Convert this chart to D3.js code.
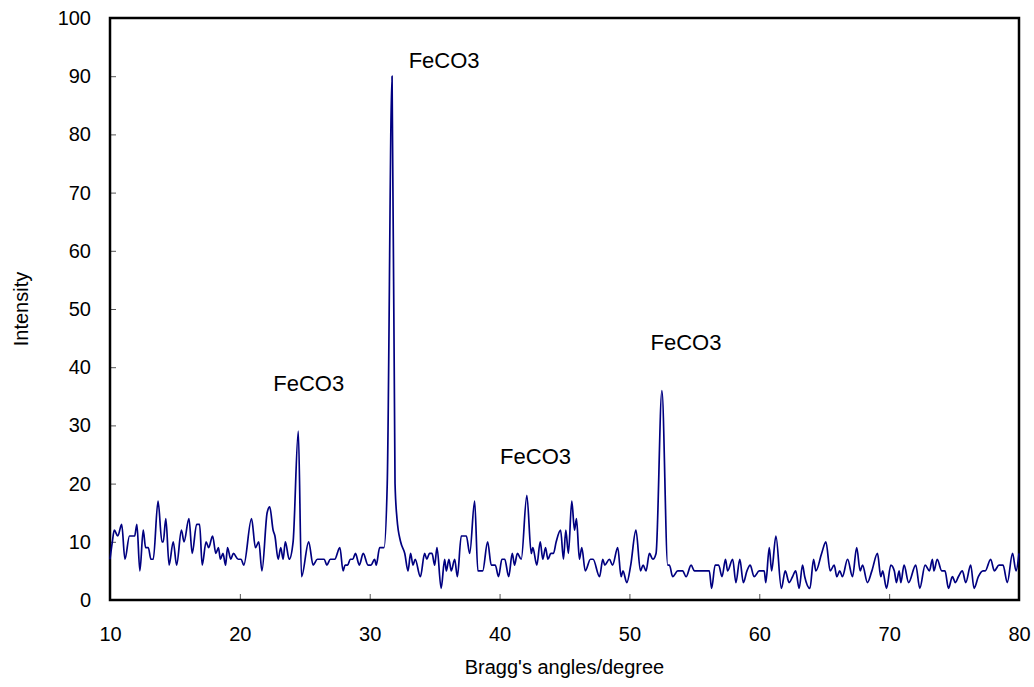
<!DOCTYPE html>
<html>
<head>
<meta charset="utf-8">
<script src="https://cdn.jsdelivr.net/npm/d3@7"></script>
<style>
  body { margin: 0; background: #fff; }
  svg { font-family: "Liberation Sans", Arial, sans-serif; }
</style>
</head>
<body>
<div id="svg_container"></div>
<script>

// Углы Брэгга (градусы)
const angles = [
  10.0, 10.18, 10.33, 10.6, 10.9, 11.15, 11.5, 11.9, 12.07, 12.3, 12.56, 12.74, 12.95, 13.15, 13.33, 13.7,
  14.0, 14.1, 14.3, 14.55, 14.87, 15.13, 15.5, 15.7, 16.08, 16.33, 16.67, 16.9, 17.1, 17.4, 17.6, 17.9,
  18.15, 18.35, 18.5, 18.7, 18.9, 19.05, 19.3, 19.5, 19.87, 20.1, 20.3, 20.9, 21.2, 21.46, 21.7, 22.1,
  22.3, 22.56, 22.7, 22.95, 23.15, 23.33, 23.5, 23.8, 24.1, 24.5, 24.75, 25.3, 25.64, 25.97, 26.5, 26.7,
  26.97, 27.3, 27.7, 27.95, 28.1, 28.3, 28.5, 28.7, 28.9, 29.2, 29.5, 29.87, 30.1, 30.38, 30.5, 30.77,
  31.1, 31.35, 31.72, 31.95, 32.1, 32.38, 32.7, 32.95, 33.15, 33.33, 33.5, 33.9, 34.23, 34.4, 34.6, 34.8,
  35.0, 35.18, 35.5, 35.77, 35.9, 36.1, 36.28, 36.54, 36.75, 37.05, 37.44, 37.7, 38.08, 38.33, 38.7, 39.08,
  39.36, 39.67, 39.92, 40.18, 40.4, 40.7, 40.98, 41.15, 41.37, 41.67, 42.1, 42.44, 42.56, 42.87, 43.13, 43.33,
  43.54, 43.72, 43.95, 44.15, 44.36, 44.7, 44.92, 45.1, 45.3, 45.56, 45.77, 45.92, 46.15, 46.33, 46.6, 47.0,
  47.2, 47.7, 47.95, 48.1, 48.46, 48.7, 49.1, 49.36, 49.5, 49.8, 50.1, 50.5, 50.85, 51.05, 51.28, 51.54,
  51.8, 52.05, 52.5, 52.95, 53.08, 53.33, 53.72, 54.1, 54.36, 54.75, 55.0, 56.15, 56.33, 56.6, 56.87, 57.13,
  57.4, 57.56, 57.95, 58.2, 58.5, 58.77, 59.05, 59.3, 59.6, 60.0, 60.38, 60.5, 60.77, 60.95, 61.28, 61.7,
  62.0, 62.3, 62.56, 62.8, 63.07, 63.33, 63.5, 63.9, 64.18, 64.36, 64.8, 65.13, 65.46, 65.77, 65.97, 66.2,
  66.4, 66.8, 67.18, 67.5, 67.77, 67.95, 68.33, 68.67, 69.1, 69.36, 69.5, 69.8, 70.13, 70.4, 70.56, 70.77,
  70.9, 71.15, 71.5, 72.05, 72.36, 72.77, 73.1, 73.33, 73.45, 73.7, 74.05, 74.3, 74.57, 74.87, 75.1, 75.33,
  75.64, 75.9, 76.28, 76.54, 76.87, 77.23, 77.4, 77.82, 78.1, 78.46, 78.77, 79.1, 79.5, 79.77, 80.0
];

// Интенсивность
const intensity = [
  7, 10, 12, 11, 13, 7, 11, 11, 13, 5, 12, 9, 9, 7, 7, 17,
  10, 10, 14, 6, 10, 6, 12, 10, 14, 8, 13, 13, 6, 10, 9, 11,
  8, 9, 7, 8, 6, 9, 7, 8, 7, 7, 6, 14, 9, 10, 5, 15,
  16, 12, 11, 7, 9, 7, 10, 7, 10, 29, 4, 10, 6, 7, 7, 6,
  7, 7, 9, 5, 6, 6, 7, 7, 8, 6, 8, 6, 6, 7, 6, 9,
  9, 20, 90, 20, 14, 10, 8, 5, 8, 6, 7, 4, 8, 7, 8, 8,
  6, 9, 2, 7, 5, 7, 5, 7, 4, 11, 11, 8, 17, 5, 5, 10,
  6, 6, 4, 7, 7, 4, 8, 6, 8, 7, 18, 8, 9, 6, 10, 7,
  9, 7, 8, 8, 10, 12, 7, 12, 8, 17, 12, 14, 7, 9, 5, 7,
  7, 4, 7, 6, 7, 6, 9, 4, 5, 3, 6, 12, 5, 6, 5, 8,
  7, 8, 36, 6, 6, 4, 5, 5, 4, 6, 5, 5, 2, 6, 6, 4,
  7, 5, 7, 3, 7, 3, 5, 6, 4, 5, 5, 3, 9, 5, 11, 2,
  5, 3, 4, 5, 2, 6, 4, 2, 7, 5, 8, 10, 5, 6, 4, 5,
  4, 7, 4, 9, 5, 6, 3, 5, 8, 4, 5, 2, 6, 5, 3, 5,
  3, 6, 3, 6, 2, 6, 5, 7, 5, 7, 5, 5, 2, 4, 3, 4,
  5, 3, 6, 2, 4, 5, 5, 7, 5, 6, 6, 3, 8, 5, 8
];

// Метки осей
const xTicks = [10, 20, 30, 40, 50, 60, 70, 80];
const yTicks = [0, 10, 20, 30, 40, 50, 60, 70, 80, 90, 100];

// Подписи пиков
const peakNames = ['FeCO3', 'FeCO3', 'FeCO3', 'FeCO3'];
const peakAngles = [25.3, 35.73, 42.77, 54.35];
const peakLevels = [35.9, 91.4, 23.4, 43.0];

// Размеры
let width = 1034;
let height = 687;
let margin = { top: 18, right: 15, bottom: 87, left: 110 };

let svg = d3.select('#svg_container')
            .append('svg')
            .attr('width', width)
            .attr('height', height);

// Шкалы
let xScale = d3.scaleLinear()
              .domain([10, 80])
              .range([margin.left, width - margin.right]);

let yScale = d3.scaleLinear()
              .domain([0, 100])
              .range([height - margin.bottom, margin.top]);

// Горизонтальная ось
let xAxis = d3.axisBottom(xScale)
              .tickValues(xTicks)
              .tickSizeInner(-6)
              .tickSizeOuter(0)
              .tickPadding(27);

let gx = svg.append('g')
  .attr('transform', `translate(0, ${height - margin.bottom})`)
  .call(xAxis);

// Вертикальная ось
let yAxis = d3.axisLeft(yScale)
              .tickValues(yTicks)
              .tickSizeInner(-6)
              .tickSizeOuter(0)
              .tickPadding(19);

let gy = svg.append('g')
  .attr('transform', `translate(${margin.left}, 0)`)
  .call(yAxis);

[gx, gy].forEach(g => {
  g.select('.domain').remove();
  g.selectAll('.tick line').attr('stroke', '#555').attr('stroke-width', 1);
  g.selectAll('.tick text')
    .attr('fill', '#000')
    .style('font-size', '20px');
});

// Рамка графика
svg.append('rect')
  .attr('x', margin.left)
  .attr('y', margin.top)
  .attr('width', width - margin.left - margin.right)
  .attr('height', height - margin.top - margin.bottom)
  .attr('fill', 'none')
  .attr('stroke', '#000')
  .attr('stroke-width', 2.5);

// Линия спектра (сглаженная)
let line = d3.line()
            .x((d, i) => xScale(angles[i]))
            .y(d => yScale(d))
            .curve(d3.curveMonotoneX);

svg.append('path')
  .datum(intensity)
  .attr('fill', 'none')
  .attr('stroke', '#000080')
  .attr('stroke-width', 1.7)
  .attr('stroke-linejoin', 'round')
  .attr('d', line);

// Подписи пиков
svg.selectAll('text.peak')
  .data(peakNames)
  .enter()
  .append('text')
  .attr('class', 'peak')
  .attr('x', (d, i) => xScale(peakAngles[i]))
  .attr('y', (d, i) => yScale(peakLevels[i]))
  .attr('text-anchor', 'middle')
  .style('font-size', '22px')
  .text(d => d);

// Названия осей
svg.append('text')
  .attr('x', (margin.left + width - margin.right) / 2)
  .attr('y', 674)
  .attr('text-anchor', 'middle')
  .style('font-size', '20px')
  .text("Bragg's angles/degree");

svg.append('text')
  .attr('transform', `translate(28, ${(margin.top + height - margin.bottom) / 2}) rotate(-90)`)
  .attr('text-anchor', 'middle')
  .style('font-size', '20px')
  .text('Intensity');

</script>
</body>
</html>
